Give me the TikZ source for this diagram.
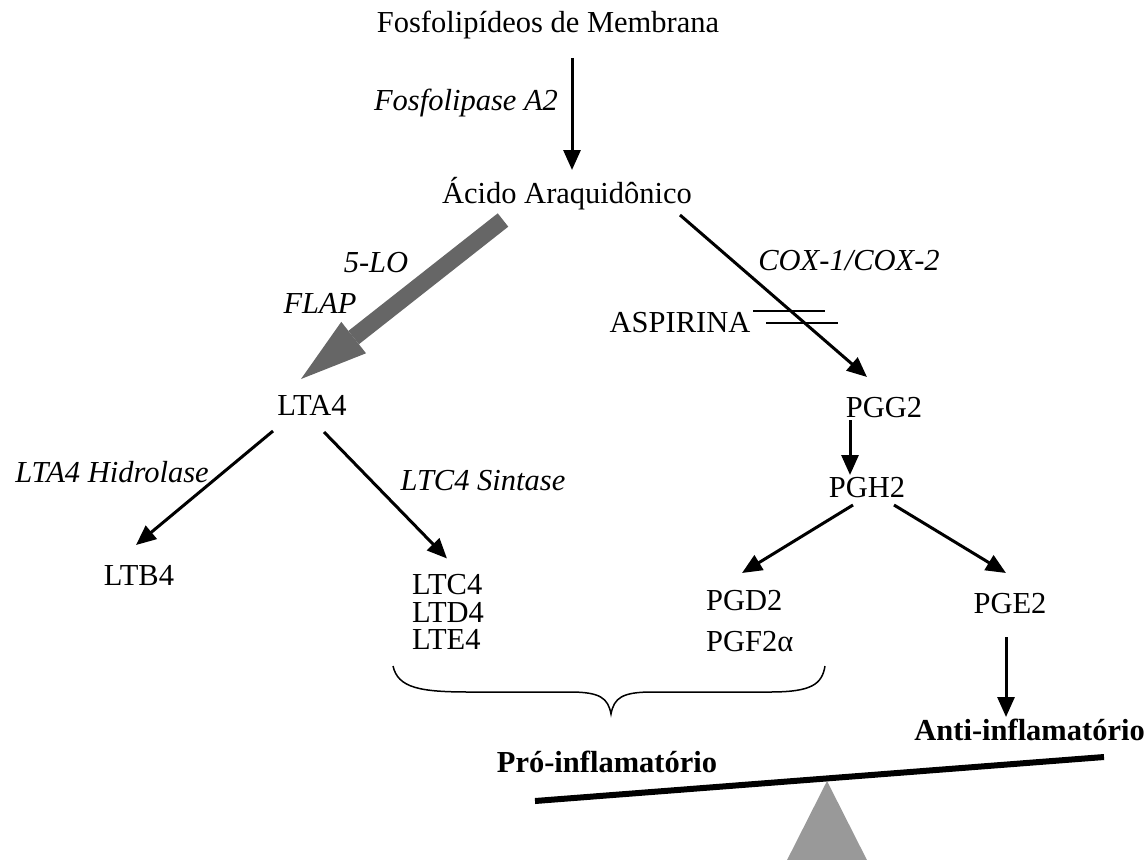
\documentclass[tikz,border=0pt]{standalone}
\usepackage{fontspec}
\setmainfont{Liberation Serif}
\usetikzlibrary{calc,arrows.meta}
\definecolor{cinza}{HTML}{666666}
\definecolor{suporte}{HTML}{999999}
\newcommand{\seta}[2]{\draw[seta] ($#1$) -- ($#2$)}
\newcommand{\corte}[1]{\draw[line width=1.6pt] ($#1$) --++ (72,0)}
\newcommand{\pilha}{\fontsize{30.5}{27.5}\selectfont\lineskiplimit=-50pt\relax}
\tikzset{
 epais/.style={line width=3pt},
 txt/.style={inner sep=0pt, font=\fontsize{30.5}{36}\selectfont},
 enz/.style={inner sep=0pt, font=\fontsize{30.5}{36}\selectfont\itshape},
 neg/.style={inner sep=0pt, font=\fontsize{30.5}{36}\selectfont\bfseries},
 seta/.style={epais, -{Triangle[length=20pt,width=17pt]}},
 grossa/.style={line width=17pt, draw=cinza, -{Triangle[length=67pt,width=40pt,line width=0pt]}}
}
\begin{document}
\begin{tikzpicture}[x=1pt,y=-1pt]
\useasboundingbox (0,0) rectangle (1147,859);
%Membrane
	\node[txt,anchor=base] (fosfo) at (548,33) {Fosfolipídeos de Membrana};
	\node[enz,anchor=base] (pla2) at (466,110) {Fosfolipase A2};
	\node[txt,anchor=base] (acido) at (567,203) {Ácido Araquidônico};
	\seta{(fosfo.base)+(24,25)}{(acido.base)+(5,-33)};
%Leukotrienes
	\node[enz,anchor=base] (lo) at (376,272) {5-LO};
	\node[enz,anchor=base] (flap) at (320,313) {FLAP};
	\node[txt,anchor=base] (lta4) at (312,415) {LTA4};
	\draw[grossa] ($(acido.base)+(-64,17)$) -- ($(lta4.base)+(-11,-36)$);
	\node[enz,anchor=base] (hidro) at (112,482) {LTA4 Hidrolase};
	\node[enz,anchor=base] (sint) at (483,490) {LTC4 Sintase};
	\node[txt,anchor=base] (ltb4) at (139,585) {LTB4};
	\node[txt,anchor=north west,align=left,font=\pilha] (ltc4) at (412,574.5) {LTC4\\LTD4\\LTE4};
	\seta{(lta4.base)+(-39,16)}{(ltb4.base)+(-3,-40)};
	\seta{(lta4.base)+(12,17)}{(ltc4.north west)+(35,-16)};
%Prostaglandins
	\node[enz,anchor=base] (cox) at (849,270) {COX-1/COX-2};
	\node[txt,anchor=base] (aspirina) at (680,332) {ASPIRINA};
	\node[txt,anchor=base] (pgg2) at (884,417) {PGG2};
	\node[txt,anchor=base] (pgh2) at (867,497) {PGH2};
	\node[txt,anchor=base west] (pgd2) at (706,610) {PGD2};
	\node[txt,anchor=base west] (pgf2) at (706,651) {PGF2α};
	\node[txt,anchor=base] (pge2) at (1010,613) {PGE2};
	\seta{(acido.base)+(113,12)}{(pgg2.base)+(-17,-40)};
	\corte{(aspirina.base)+(73,-21)};
	\corte{(aspirina.base)+(86,-9)};
	\seta{(pgg2.base)+(-34,3)}{(pgh2.base)+(-17,-22)};
	\seta{(pgh2.base)+(-14,8)}{(pgd2.base west)+(36,-37)};
	\seta{(pgh2.base)+(27,8)}{(pge2.base)+(-4,-40)};
%Brace
	\draw[line width=1.5pt] (393,666) .. controls (398,688) and (420,692) .. (470,692) -- (570,692)
		.. controls (600,692) and (608,698) .. (611,714) .. controls (614,698) and (622,692) .. (652,692)
		-- (770,692) .. controls (812,692) and (822,684) .. (825,666);
%Balance
	\node[neg,anchor=base] (pro) at (607,772) {Pró-inflamatório};
	\node[neg,anchor=base east] (anti) at (1145,740) {Anti-inflamatório};
	\seta{(pge2.base)+(-4,24)}{(anti.base east)+(-139,-23)};
	\fill[suporte] (827,781) -- (872,870) -- (782,870) -- cycle;
	\draw[line width=6pt] (535,801) -- (1104,757);
\end{tikzpicture}
\end{document}
